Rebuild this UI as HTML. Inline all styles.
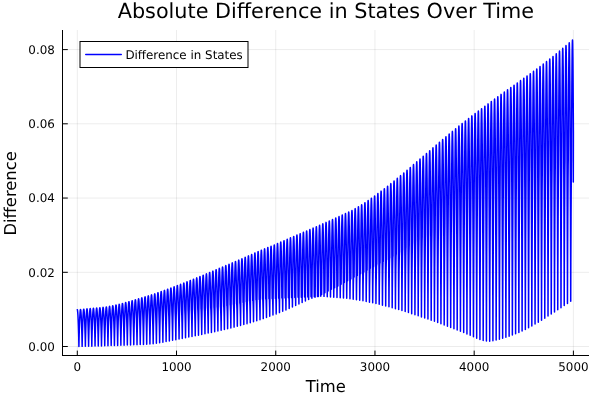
<!DOCTYPE html>
<html><head><meta charset="utf-8"><style>
html,body{margin:0;padding:0;background:#fff;}
svg{display:block;will-change:transform;}
text{font-family:"DejaVu Sans","Liberation Sans",sans-serif;fill:#000;text-rendering:geometricPrecision;}
</style></head><body>
<svg width="600" height="400" viewBox="0 0 600 400">
<rect width="600" height="400" fill="#fff"/>
<g stroke="#000" stroke-opacity="0.1" stroke-width="0.75" fill="none">
<path d="M77.3 30V355M176.52 30V355M275.74 30V355M374.96 30V355M474.18 30V355M573.4 30V355"/>
<path d="M62 346.5H589M62 272.3H589M62 198.05H589M62 123.8H589M62 49.6H589"/>
</g>
<polyline points="77.30,309.72 77.35,309.75 77.40,309.86 77.51,310.32 77.72,312.16 77.94,315.24 78.15,319.64 78.39,325.71 78.62,332.98 78.81,340.71 78.91,346.44 79.04,339.39 79.29,330.22 79.56,322.27 79.83,316.18 80.08,312.29 80.20,310.97 80.32,310.07 80.44,309.55 80.50,309.45 80.56,309.45 80.68,309.75 80.80,310.47 80.98,312.29 81.16,315.01 81.53,323.29 81.92,335.50 82.14,346.37 82.26,339.80 82.48,331.11 82.74,323.34 83.00,317.13 83.23,313.01 83.46,310.37 83.57,309.61 83.69,309.22 83.74,309.16 83.80,309.19 83.91,309.52 84.11,310.93 84.30,313.42 84.49,316.85 84.70,321.66 85.12,334.37 85.28,341.25 85.37,346.29 85.48,339.87 85.70,331.42 85.94,323.72 86.19,317.50 86.42,313.25 86.65,310.43 86.76,309.56 86.87,309.04 86.93,308.91 86.98,308.88 87.04,308.93 87.09,309.06 87.19,309.53 87.29,310.29 87.49,312.66 87.69,316.08 87.91,320.97 88.13,327.00 88.33,333.90 88.51,341.05 88.59,346.21 88.70,339.97 88.92,331.51 89.16,323.84 89.40,317.56 89.63,313.24 89.85,310.35 89.96,309.43 90.07,308.84 90.18,308.60 90.23,308.61 90.29,308.70 90.39,309.10 90.49,309.82 90.70,312.15 90.90,315.60 91.13,320.57 91.35,326.62 91.56,333.59 91.73,340.84 91.82,346.14 91.93,339.84 92.14,331.49 92.38,323.83 92.62,317.52 92.85,313.16 93.06,310.22 93.17,309.24 93.28,308.61 93.39,308.33 93.45,308.32 93.50,308.38 93.60,308.75 93.71,309.44 93.91,311.74 94.12,315.17 94.35,320.24 94.57,326.26 94.78,333.30 94.96,340.63 95.05,346.06 95.15,339.84 95.36,331.42 95.60,323.76 95.84,317.43 96.06,313.05 96.28,310.03 96.39,309.03 96.50,308.38 96.60,308.06 96.66,308.03 96.71,308.08 96.81,308.41 96.92,309.09 97.13,311.38 97.34,314.83 97.57,320.02 97.79,326.03 98.00,333.15 98.18,340.52 98.28,345.99 98.38,339.73 98.59,331.34 98.82,323.61 99.06,317.29 99.28,312.86 99.50,309.83 99.61,308.80 99.72,308.13 99.82,307.79 99.88,307.74 99.93,307.78 100.04,308.11 100.14,308.77 100.36,311.10 100.56,314.62 100.80,319.91 101.02,325.94 101.23,333.01 101.41,340.40 101.50,345.90 101.61,339.60 101.81,331.24 102.05,323.51 102.29,317.10 102.51,312.60 102.72,309.51 102.83,308.47 102.94,307.77 103.04,307.41 103.10,307.36 103.15,307.38 103.26,307.70 103.36,308.35 103.58,310.69 103.79,314.28 104.03,319.73 104.25,325.78 104.46,332.89 104.64,340.35 104.73,345.79 104.84,339.48 105.04,331.03 105.27,323.22 105.51,316.81 105.73,312.29 105.94,309.14 106.05,308.08 106.16,307.36 106.26,306.99 106.32,306.92 106.37,306.94 106.48,307.23 106.58,307.88 106.80,310.26 107.01,313.88 107.26,319.50 107.48,325.50 107.69,332.65 107.87,340.15 107.96,345.69 108.06,339.35 108.26,330.88 108.50,322.95 108.74,316.43 108.95,311.83 109.17,308.65 109.38,306.82 109.49,306.41 109.54,306.34 109.59,306.35 109.70,306.65 109.81,307.30 110.03,309.74 110.24,313.47 110.49,319.26 110.71,325.33 110.92,332.47 111.10,340.05 111.19,345.59 111.29,339.21 111.49,330.60 111.72,322.62 111.96,315.98 112.18,311.30 112.39,308.05 112.60,306.18 112.71,305.76 112.76,305.68 112.81,305.68 112.93,305.98 113.03,306.65 113.26,309.15 113.47,313.00 113.72,318.98 113.94,325.04 114.15,332.26 114.32,339.82 114.42,345.49 114.52,338.95 114.72,330.22 114.95,322.11 115.19,315.44 115.40,310.73 115.62,307.42 115.83,305.51 115.93,305.07 115.99,304.99 116.04,304.99 116.13,305.23 116.23,305.75 116.43,307.69 116.62,310.83 116.82,315.16 117.09,322.32 117.32,329.80 117.53,338.62 117.64,345.39 117.75,338.78 117.95,329.89 118.18,321.66 118.41,314.88 118.63,310.08 118.84,306.71 119.05,304.76 119.16,304.32 119.21,304.23 119.26,304.23 119.36,304.46 119.46,304.99 119.65,306.96 119.85,310.15 120.04,314.54 120.32,322.04 120.55,329.54 120.76,338.50 120.87,345.28 120.97,338.61 121.18,329.55 121.40,321.24 121.64,314.31 121.85,309.41 122.07,305.96 122.28,303.96 122.38,303.51 122.44,303.41 122.49,303.41 122.58,303.64 122.68,304.17 122.87,306.16 123.07,309.40 123.26,313.81 123.55,321.64 123.77,329.17 123.99,338.24 124.10,345.18 124.20,338.44 124.40,329.19 124.63,320.71 124.87,313.65 125.08,308.65 125.29,305.17 125.50,303.12 125.61,302.65 125.66,302.55 125.71,302.54 125.81,302.76 125.91,303.30 126.10,305.31 126.30,308.60 126.49,313.08 126.78,321.28 127.00,328.82 127.22,338.03 127.33,345.06 127.43,338.15 127.63,328.84 127.86,320.17 128.09,312.96 128.31,307.86 128.52,304.30 128.73,302.22 128.83,301.74 128.88,301.63 128.94,301.62 129.03,301.83 129.13,302.36 129.32,304.38 129.51,307.66 129.71,312.26 130.02,321.00 130.23,328.49 130.45,337.84 130.56,344.92 130.66,337.84 130.86,328.36 131.09,319.54 131.32,312.26 131.54,307.05 131.75,303.42 131.96,301.30 132.06,300.80 132.11,300.69 132.16,300.68 132.26,300.89 132.35,301.44 132.55,303.47 132.74,306.81 132.93,311.42 133.25,320.62 133.46,328.12 133.67,337.47 133.79,344.78 133.89,337.55 134.09,327.89 134.32,318.89 134.55,311.48 134.76,306.22 134.97,302.51 135.18,300.34 135.28,299.84 135.34,299.73 135.39,299.71 135.48,299.93 135.58,300.48 135.77,302.54 135.96,305.93 136.16,310.62 136.49,320.31 136.69,327.75 136.90,337.23 137.02,344.65 137.12,337.41 137.32,327.52 137.54,318.42 137.77,310.83 137.99,305.46 138.20,301.66 138.41,299.43 138.51,298.90 138.56,298.79 138.61,298.77 138.71,298.98 138.80,299.53 139.00,301.62 139.19,305.01 139.38,309.77 139.72,320.03 139.92,327.41 140.13,337.03 140.25,344.51 140.35,337.11 140.55,327.05 140.77,317.79 141.00,310.07 141.22,304.60 141.43,300.77 141.63,298.50 141.74,297.96 141.79,297.84 141.84,297.82 141.93,298.03 142.03,298.60 142.22,300.72 142.41,304.17 142.61,309.02 142.95,319.74 143.15,327.04 143.36,336.80 143.47,344.38 143.58,336.80 143.77,326.68 144.00,317.23 144.23,309.36 144.44,303.77 144.65,299.87 144.86,297.55 144.97,297.00 145.02,296.87 145.07,296.85 145.16,297.07 145.26,297.62 145.45,299.77 145.64,303.27 145.83,308.19 146.19,319.45 146.38,326.77 146.59,336.57 146.70,344.24 146.81,336.51 147.00,326.19 147.23,316.57 147.46,308.63 147.67,302.99 147.88,298.94 148.09,296.57 148.19,296.01 148.25,295.88 148.29,295.86 148.39,296.08 148.48,296.64 148.67,298.82 148.87,302.39 149.06,307.33 149.43,319.23 149.62,326.49 149.83,336.43 149.93,344.09 150.04,336.24 150.23,325.73 150.46,315.92 150.69,307.82 150.90,302.02 151.11,297.96 151.32,295.57 151.42,294.99 151.47,294.86 151.52,294.83 151.61,295.04 151.71,295.60 151.90,297.77 152.08,301.32 152.27,306.23 152.85,326.08 153.06,336.05 153.17,343.72 153.27,335.87 153.46,325.15 153.69,315.16 153.92,306.92 154.13,301.09 154.34,296.96 154.55,294.54 154.65,293.96 154.70,293.83 154.75,293.80 154.84,294.01 154.93,294.56 155.12,296.71 155.30,300.23 155.49,305.17 156.09,325.68 156.29,335.55 156.40,343.35 156.50,335.30 156.70,324.41 156.92,314.37 157.15,306.07 157.36,300.13 157.57,295.97 157.77,293.48 157.87,292.88 157.93,292.74 157.98,292.71 158.07,292.91 158.16,293.45 158.34,295.58 158.52,299.07 158.71,303.99 159.33,325.31 159.53,335.18 159.64,342.82 159.74,334.63 159.93,323.69 160.15,313.56 160.38,305.10 160.59,299.11 160.80,294.86 161.00,292.34 161.10,291.72 161.15,291.58 161.20,291.54 161.29,291.74 161.38,292.27 161.56,294.38 161.74,297.85 161.93,302.66 162.57,324.93 162.77,334.51 162.88,342.20 162.98,333.94 163.17,322.82 163.39,312.63 163.62,304.03 163.82,298.01 164.03,293.69 164.23,291.15 164.33,290.54 164.38,290.40 164.43,290.37 164.52,290.56 164.61,291.10 164.79,293.17 164.96,296.56 165.14,301.32 165.44,312.46 165.61,317.18 165.81,324.47 166.01,334.03 166.11,341.59 166.21,333.23 166.40,322.04 166.62,311.68 166.85,303.02 167.05,296.89 167.26,292.55 167.46,289.98 167.56,289.35 167.61,289.20 167.66,289.17 167.75,289.36 167.83,289.89 168.01,291.94 168.18,295.29 168.36,300.02 168.67,312.13 168.85,316.79 169.05,324.10 169.25,333.39 169.35,340.97 169.45,332.50 169.64,321.12 169.86,310.70 170.08,301.99 170.28,295.83 170.49,291.40 170.69,288.79 170.79,288.16 170.84,288.01 170.89,287.97 170.97,288.15 171.06,288.67 171.23,290.69 171.40,294.02 171.57,298.71 171.76,305.14 171.91,311.81 172.09,316.34 172.29,323.75 172.48,332.92 172.59,340.35 172.69,331.75 172.88,320.34 173.09,309.74 173.31,300.98 173.52,294.71 173.72,290.26 173.92,287.60 174.02,286.95 174.07,286.80 174.12,286.76 174.20,286.95 174.29,287.46 174.45,289.47 174.62,292.78 174.79,297.36 174.99,304.23 175.14,311.49 175.32,315.93 175.54,323.44 175.72,332.36 175.83,339.68 175.93,331.01 176.11,319.41 176.33,308.76 176.55,299.86 176.75,293.50 176.95,289.05 177.15,286.38 177.25,285.73 177.30,285.57 177.34,285.53 177.43,285.71 177.51,286.22 177.68,288.20 177.84,291.46 178.01,296.00 178.21,303.30 178.38,311.16 178.56,315.44 178.78,323.04 178.96,331.83 179.06,339.02 179.16,330.24 179.35,318.47 179.56,307.79 179.78,298.84 179.98,292.45 180.18,287.86 180.38,285.18 180.48,284.52 180.53,284.36 180.57,284.32 180.66,284.50 180.74,285.00 180.90,286.96 181.06,290.19 181.23,294.68 181.44,302.45 181.62,310.84 181.80,315.03 182.02,322.74 182.20,331.31 182.30,338.38 182.40,329.49 182.59,317.53 182.80,306.67 183.01,297.69 183.21,291.28 183.41,286.67 183.61,283.94 183.71,283.26 183.76,283.10 183.80,283.06 183.88,283.23 183.96,283.73 184.13,285.67 184.29,288.87 184.45,293.40 184.67,301.57 184.85,310.51 185.04,314.62 185.27,322.45 185.44,330.82 185.54,337.72 185.64,328.68 185.82,316.68 186.03,305.77 186.25,296.63 186.45,290.10 186.64,285.42 186.84,282.64 186.94,281.97 186.99,281.81 187.03,281.76 187.11,281.94 187.19,282.43 187.35,284.35 187.51,287.52 187.67,292.01 187.90,300.67 188.09,310.19 188.17,311.37 188.28,314.20 188.51,322.04 188.68,330.30 188.77,337.06 188.87,327.87 189.06,315.69 189.27,304.60 189.48,295.43 189.68,288.81 189.88,284.11 190.07,281.34 190.17,280.65 190.22,280.49 190.26,280.44 190.34,280.62 190.42,281.11 190.58,283.06 190.73,286.21 190.89,290.67 191.13,299.75 191.32,309.87 191.40,310.97 191.52,313.80 191.75,321.79 191.92,329.87 192.01,336.45 192.11,327.26 192.29,314.86 192.50,303.72 192.71,294.39 192.91,287.73 193.11,282.95 193.30,280.11 193.40,279.41 193.45,279.24 193.49,279.19 193.57,279.37 193.65,279.84 193.80,281.76 193.96,284.93 194.11,289.35 194.36,298.85 194.56,309.54 194.64,310.52 194.76,313.32 195.00,321.41 195.16,329.26 195.25,335.81 195.35,326.42 195.53,314.00 195.73,302.67 195.95,293.18 196.14,286.43 196.34,281.64 196.53,278.76 196.63,278.06 196.67,277.89 196.72,277.85 196.80,278.02 196.88,278.51 197.03,280.42 197.18,283.57 197.34,287.96 197.59,297.89 197.80,309.22 197.88,310.17 198.00,312.97 198.24,321.15 198.40,328.81 198.48,335.15 198.58,325.76 198.76,313.13 198.97,301.62 199.18,292.10 199.38,285.23 199.57,280.36 199.76,277.47 199.86,276.75 199.90,276.58 199.95,276.53 200.03,276.71 200.10,277.18 200.25,279.06 200.41,282.17 200.56,286.57 200.82,297.04 201.03,308.90 201.04,308.84 201.06,308.99 201.11,309.75 201.24,312.45 201.48,320.69 201.64,328.25 201.72,334.47 201.82,324.95 202.00,312.12 202.20,300.57 202.41,290.89 202.61,284.01 202.80,279.06 202.99,276.14 203.09,275.42 203.13,275.25 203.18,275.20 203.26,275.36 203.33,275.83 203.48,277.72 203.63,280.86 203.78,285.24 204.05,296.07 204.27,308.57 204.28,308.49 204.30,308.60 204.35,309.33 204.48,312.01 204.72,320.28 204.88,327.61 204.96,333.77 205.05,324.04 205.23,311.20 205.44,299.47 205.65,289.77 205.84,282.77 206.03,277.80 206.22,274.82 206.32,274.09 206.36,273.91 206.41,273.85 206.49,274.02 206.56,274.49 206.71,276.37 206.86,279.48 207.01,283.82 207.28,295.09 207.51,308.25 207.51,308.15 207.53,308.24 207.59,308.91 207.72,311.56 207.97,319.93 208.11,327.06 208.19,333.08 208.29,323.21 208.47,310.18 208.67,298.41 208.88,288.54 209.07,281.44 209.27,276.41 209.45,273.43 209.55,272.69 209.60,272.51 209.64,272.46 209.71,272.62 209.79,273.10 209.94,274.97 210.08,278.06 210.23,282.43 210.51,294.19 210.74,307.93 210.76,307.83 210.80,308.19 210.91,310.01 211.13,316.26 211.32,324.74 211.43,332.39 211.53,322.33 211.71,309.12 211.91,297.20 212.12,287.32 212.31,280.21 212.50,275.11 212.69,272.08 212.78,271.34 212.83,271.16 212.87,271.11 212.94,271.27 213.02,271.73 213.16,273.59 213.31,276.70 213.46,281.03 213.74,293.15 213.98,307.60 214.00,307.45 214.04,307.77 214.14,309.50 214.36,315.60 214.56,324.00 214.67,331.65 214.76,321.69 214.94,308.23 215.14,296.09 215.35,286.05 215.54,278.91 215.73,273.78 215.92,270.69 216.01,269.92 216.06,269.73 216.10,269.68 216.17,269.84 216.25,270.30 216.39,272.15 216.53,275.22 216.68,279.51 216.98,292.23 217.21,307.28 217.24,307.09 217.28,307.34 217.38,308.94 217.60,314.88 217.79,323.16 217.90,330.92 218.00,320.79 218.18,307.15 218.38,295.00 218.59,284.81 218.77,277.58 218.96,272.39 219.15,269.31 219.24,268.54 219.29,268.35 219.33,268.30 219.40,268.46 219.48,268.92 219.62,270.80 219.76,273.85 219.90,278.17 220.20,291.18 220.45,306.91 220.47,306.68 220.51,306.89 220.61,308.37 220.83,314.14 221.03,322.46 221.14,330.21 221.24,319.94 221.42,306.29 221.61,293.96 221.82,283.75 222.01,276.40 222.19,271.12 222.38,267.99 222.47,267.20 222.52,267.02 222.57,266.96 222.64,267.12 222.71,267.58 222.85,269.43 222.99,272.50 223.13,276.78 223.43,290.17 223.68,306.29 223.70,306.02 223.74,306.17 223.84,307.53 224.06,313.22 224.27,321.56 224.38,329.47 224.47,319.06 224.65,305.23 224.85,292.88 225.05,282.52 225.24,275.08 225.43,269.80 225.61,266.63 225.70,265.85 225.75,265.65 225.80,265.59 225.87,265.75 225.93,266.21 226.07,268.03 226.21,271.05 226.35,275.27 226.66,288.99 226.91,305.67 226.93,305.36 226.97,305.46 227.08,306.76 227.30,312.31 227.50,320.69 227.61,328.67 227.71,318.22 227.89,304.20 228.09,291.69 228.29,281.33 228.47,273.79 228.66,268.45 228.84,265.29 228.94,264.50 228.98,264.30 229.03,264.24 229.10,264.40 229.16,264.85 229.30,266.68 229.44,269.67 229.58,273.91 229.89,287.91 230.14,305.05 230.17,304.69 230.18,304.67 230.21,304.74 230.31,305.95 230.53,311.42 230.74,319.71 230.85,327.91 230.95,317.20 231.13,303.20 231.32,290.68 231.52,280.16 231.71,272.60 231.89,267.17 232.08,263.95 232.17,263.15 232.22,262.94 232.26,262.88 232.33,263.04 232.39,263.48 232.53,265.27 232.67,268.27 232.80,272.45 233.12,286.82 233.38,304.43 233.40,304.04 233.41,303.98 233.44,304.02 233.54,305.09 233.77,310.44 233.97,318.87 234.09,327.12 234.19,316.31 234.36,302.13 234.56,289.44 234.76,278.81 234.94,271.18 235.13,265.79 235.31,262.54 235.40,261.74 235.45,261.55 235.49,261.50 235.56,261.65 235.63,262.11 235.76,263.89 235.89,266.86 236.03,270.99 236.35,285.61 236.61,303.80 236.63,303.36 236.65,303.29 236.67,303.31 236.77,304.29 237.00,309.49 237.21,317.94 237.33,326.28 237.42,315.47 237.60,301.08 237.79,288.23 237.99,277.59 238.18,269.96 238.36,264.47 238.54,261.17 238.64,260.36 238.68,260.16 238.72,260.10 238.79,260.26 238.86,260.69 238.99,262.49 239.12,265.41 239.26,269.57 239.58,284.61 239.84,303.18 239.86,302.69 239.90,302.57 240.01,303.43 240.12,305.42 240.23,308.48 240.45,316.90 240.57,325.38 240.66,314.45 240.84,300.08 241.03,287.21 241.23,276.41 241.41,268.66 241.59,263.11 241.78,259.81 241.87,258.98 241.91,258.78 241.96,258.72 242.02,258.87 242.09,259.30 242.22,261.05 242.35,263.98 242.48,268.07 242.81,283.34 243.07,302.56 243.09,302.02 243.13,301.85 243.18,302.04 243.24,302.57 243.35,304.51 243.47,307.50 243.69,315.93 243.81,324.52 243.90,313.38 244.08,298.86 244.27,285.86 244.46,275.08 244.65,267.26 244.83,261.72 245.01,258.40 245.10,257.58 245.14,257.38 245.19,257.31 245.25,257.46 245.32,257.90 245.45,259.64 245.58,262.52 245.71,266.63 245.87,273.51 246.04,282.32 246.31,301.94 246.33,301.36 246.37,301.12 246.42,301.24 246.47,301.74 246.59,303.59 246.70,306.49 246.92,314.79 247.05,323.63 247.14,312.54 247.31,297.81 247.50,284.79 247.70,273.86 247.88,266.03 248.06,260.39 248.24,257.00 248.33,256.17 248.38,255.96 248.42,255.90 248.49,256.05 248.55,256.47 248.68,258.21 248.80,261.05 248.93,265.09 249.10,272.12 249.27,281.01 249.54,301.31 249.56,300.70 249.60,300.38 249.63,300.37 249.65,300.45 249.71,300.90 249.82,302.65 249.94,305.54 250.16,313.88 250.29,322.71 250.38,311.46 250.55,296.76 250.74,283.58 250.93,272.65 251.11,264.72 251.30,259.01 251.47,255.62 251.56,254.77 251.61,254.56 251.65,254.49 251.72,254.64 251.78,255.06 251.91,256.77 252.03,259.63 252.16,263.61 252.33,270.80 252.50,279.95 252.77,300.69 252.83,299.65 252.86,299.60 252.88,299.65 252.94,300.02 253.06,301.70 253.18,304.50 253.40,312.81 253.52,321.78 253.62,310.37 253.79,295.49 253.98,282.17 254.17,271.13 254.35,263.13 254.53,257.47 254.71,254.08 254.80,253.24 254.85,253.04 254.89,252.98 254.95,253.13 255.01,253.56 255.14,255.25 255.26,258.06 255.39,262.07 255.56,269.31 255.73,278.69 256.01,300.07 256.07,298.90 256.09,298.82 256.12,298.84 256.17,299.15 256.29,300.70 256.41,303.39 256.63,311.64 256.76,320.77 256.97,298.91 257.29,276.20 257.60,261.24 257.76,256.33 257.91,253.17 257.99,252.16 258.07,251.64 258.11,251.56 258.15,251.59 258.23,252.00 258.39,254.27 258.55,258.44 258.74,265.73 258.93,275.65 259.11,288.24 259.24,299.45 259.30,298.15 259.35,298.01 259.41,298.25 259.53,299.68 259.65,302.32 259.87,310.54 260.01,319.72 260.27,293.27 260.45,279.80 260.64,268.63 260.82,260.54 261.00,254.81 261.18,251.34 261.26,250.47 261.31,250.25 261.35,250.19 261.41,250.32 261.47,250.72 261.59,252.36 261.71,255.10 261.84,258.94 262.01,266.57 262.19,276.43 262.48,299.16 262.54,297.73 262.59,297.50 262.64,297.64 262.76,298.91 262.88,301.39 263.11,309.45 263.25,318.62 263.47,294.70 263.81,271.01 263.98,262.66 264.14,256.33 264.30,251.91 264.46,249.43 264.53,248.95 264.57,248.87 264.60,248.87 264.67,249.15 264.74,249.83 264.89,252.30 265.03,256.29 265.22,263.94 265.40,274.29 265.59,287.40 265.71,298.98 265.77,297.40 265.83,297.06 265.85,297.04 265.88,297.11 266.00,298.21 266.12,300.53 266.35,308.32 266.49,317.47 266.60,304.20 266.79,287.31 267.00,273.02 267.21,261.80 267.40,254.16 267.59,249.43 267.69,248.13 267.79,247.54 267.81,247.51 267.84,247.52 267.89,247.68 267.98,248.54 268.11,250.75 268.24,254.27 268.50,265.12 268.76,281.71 268.95,298.80 269.01,297.07 269.06,296.62 269.09,296.54 269.12,296.55 269.18,296.84 269.24,297.45 269.36,299.59 269.59,307.15 269.73,316.29 269.99,289.53 270.36,264.90 270.53,256.80 270.70,250.96 270.88,247.43 270.96,246.54 271.05,246.24 271.12,246.43 271.20,247.05 271.35,249.59 271.49,253.85 271.64,259.82 271.95,277.83 272.19,298.62 272.25,296.71 272.30,296.18 272.36,296.00 272.42,296.19 272.48,296.70 272.60,298.69 272.72,301.89 272.83,306.09 272.97,315.11 273.23,288.35 273.59,263.66 273.77,255.48 273.94,249.61 274.11,246.10 274.20,245.20 274.28,244.90 274.36,245.10 274.43,245.73 274.58,248.31 274.73,252.64 274.88,258.81 275.19,277.32 275.43,298.44 275.49,296.38 275.54,295.74 275.59,295.45 275.62,295.44 275.65,295.52 275.71,295.92 275.84,297.72 275.96,300.80 276.07,304.86 276.21,313.88 276.47,287.13 276.83,262.35 277.00,254.09 277.17,248.24 277.35,244.68 277.43,243.79 277.51,243.47 277.55,243.51 277.59,243.66 277.66,244.29 277.81,246.95 277.97,251.43 278.12,257.73 278.43,276.59 278.67,298.25 278.73,296.01 278.83,294.88 278.86,294.82 278.89,294.85 278.95,295.16 279.08,296.77 279.20,299.61 279.31,303.58 279.46,312.62 279.71,285.73 280.07,260.92 280.24,252.73 280.41,246.84 280.58,243.31 280.66,242.41 280.75,242.08 280.79,242.12 280.82,242.28 280.90,242.95 281.05,245.67 281.20,250.24 281.35,256.66 281.67,276.03 281.90,298.07 281.96,295.69 282.07,294.31 282.13,294.17 282.19,294.36 282.32,295.79 282.44,298.53 282.55,302.39 282.70,311.31 282.95,284.28 283.31,259.48 283.48,251.23 283.65,245.39 283.82,241.85 283.90,240.95 283.98,240.64 284.02,240.68 284.06,240.83 284.14,241.51 284.29,244.28 284.44,248.92 284.59,255.56 284.91,275.29 285.14,297.89 285.20,295.30 285.31,293.71 285.37,293.45 285.40,293.45 285.43,293.53 285.56,294.75 285.68,297.29 285.80,301.05 285.94,309.91 286.19,282.89 286.55,258.06 286.72,249.87 286.89,243.97 287.05,240.45 287.14,239.53 287.22,239.22 287.26,239.26 287.29,239.42 287.37,240.11 287.52,242.98 287.68,247.82 287.83,254.48 288.15,274.75 288.38,297.76 288.44,295.03 288.55,293.16 288.61,292.77 288.64,292.71 288.67,292.74 288.73,293.05 288.80,293.73 288.92,296.07 289.04,299.66 289.14,304.30 289.19,308.52 289.44,281.45 289.79,256.62 289.96,248.38 290.12,242.54 290.29,239.00 290.37,238.12 290.45,237.80 290.49,237.84 290.53,238.00 290.60,238.70 290.76,241.60 290.91,246.50 291.07,253.38 291.39,274.18 291.62,297.62 291.68,294.69 291.79,292.58 291.85,292.06 291.91,291.91 291.97,292.11 292.04,292.68 292.16,294.86 292.28,298.27 292.38,302.76 292.43,307.06 292.68,280.06 293.03,255.22 293.19,247.04 293.36,241.16 293.52,237.64 293.61,236.74 293.69,236.41 293.73,236.46 293.76,236.63 293.84,237.36 294.00,240.33 294.15,245.32 294.30,252.33 294.62,273.47 294.86,297.48 294.92,294.33 295.03,291.97 295.09,291.33 295.15,291.06 295.18,291.06 295.21,291.15 295.28,291.61 295.40,293.60 295.52,296.93 295.62,301.31 295.68,305.56 295.92,278.44 296.27,253.82 296.43,245.59 296.60,239.77 296.76,236.23 296.84,235.34 296.92,235.02 296.96,235.07 297.00,235.24 297.08,235.97 297.23,238.98 297.38,244.04 297.54,251.26 297.86,272.95 298.10,297.34 298.16,294.05 298.27,291.36 298.33,290.60 298.39,290.21 298.42,290.14 298.45,290.18 298.52,290.52 298.65,292.34 298.77,295.50 298.87,299.85 298.92,304.06 299.16,277.06 299.51,252.45 299.67,244.28 299.83,238.41 300.00,234.86 300.08,233.97 300.16,233.66 300.20,233.72 300.24,233.90 300.31,234.65 300.47,237.79 300.62,242.97 300.78,250.34 301.10,272.42 301.34,297.21 301.40,293.70 301.50,290.81 301.63,289.36 301.69,289.21 301.76,289.44 301.89,291.03 302.01,294.06 302.11,298.25 302.16,302.56 302.41,275.70 302.75,251.09 302.91,242.87 303.07,237.05 303.23,233.52 303.31,232.61 303.39,232.29 303.43,232.35 303.47,232.52 303.55,233.28 303.70,236.45 303.86,241.79 304.02,249.27 304.34,271.90 304.58,297.07 304.63,293.44 304.74,290.20 304.87,288.50 304.93,288.22 304.96,288.23 305.00,288.34 305.13,289.74 305.25,292.59 305.35,296.75 305.41,301.03 305.65,274.11 305.99,249.58 306.15,241.46 306.31,235.70 306.47,232.14 306.55,231.25 306.63,230.92 306.67,230.97 306.71,231.15 306.78,231.94 306.94,235.17 307.10,240.58 307.25,248.18 307.58,271.11 307.82,296.93 307.87,293.11 307.98,289.62 308.11,287.67 308.17,287.28 308.20,287.23 308.24,287.29 308.31,287.71 308.37,288.51 308.49,291.21 308.60,295.34 308.65,299.56 308.89,272.74 309.23,248.23 309.39,240.06 309.55,234.28 309.71,230.77 309.79,229.87 309.87,229.55 309.91,229.60 309.94,229.79 310.02,230.60 310.18,233.88 310.33,239.38 310.49,247.22 310.82,270.57 311.05,296.79 311.11,292.78 311.22,289.06 311.35,286.88 311.41,286.38 311.44,286.28 311.48,286.28 311.54,286.59 311.61,287.30 311.73,289.89 311.84,293.91 311.90,298.17 312.14,271.11 312.47,246.69 312.63,238.60 312.79,232.79 312.95,229.29 313.03,228.40 313.10,228.10 313.14,228.16 313.18,228.35 313.26,229.19 313.42,232.53 313.57,238.12 313.73,246.09 314.06,269.97 314.29,296.66 314.35,292.52 314.46,288.62 314.59,286.28 314.65,285.70 314.72,285.52 314.78,285.77 314.85,286.41 314.97,288.90 315.08,292.84 315.14,297.13 315.38,269.93 315.71,245.44 315.87,237.28 316.02,231.49 316.18,227.92 316.26,227.02 316.34,226.71 316.38,226.76 316.41,226.95 316.49,227.78 316.65,231.20 316.81,236.87 316.97,244.94 317.30,269.36 317.53,296.51 317.59,292.29 317.70,288.27 317.83,285.83 317.89,285.22 317.95,285.02 318.02,285.22 318.08,285.83 318.21,288.27 318.31,292.19 318.37,296.53 318.61,269.10 318.94,244.17 319.10,235.92 319.26,230.09 319.42,226.50 319.50,225.59 319.57,225.28 319.61,225.34 319.65,225.53 319.73,226.38 319.89,229.86 320.05,235.72 320.21,243.93 320.54,268.73 320.77,296.28 320.83,291.77 320.94,287.61 321.06,284.88 321.13,284.10 321.20,283.76 321.23,283.75 321.27,283.84 321.33,284.34 321.45,286.55 321.56,290.35 321.62,294.57 321.86,267.31 322.19,242.63 322.34,234.46 322.50,228.60 322.65,225.04 322.73,224.13 322.81,223.82 322.85,223.89 322.89,224.10 322.97,224.98 323.13,228.56 323.29,234.54 323.45,242.91 323.78,268.35 324.02,296.37 324.07,291.70 324.18,287.22 324.30,284.17 324.37,283.23 324.44,282.73 324.47,282.64 324.51,282.66 324.57,283.01 324.70,284.99 324.81,288.65 324.87,292.84 325.11,265.42 325.43,240.92 325.59,232.78 325.74,227.04 325.90,223.53 325.97,222.67 326.05,222.38 326.13,222.69 326.21,223.61 326.37,227.28 326.53,233.38 326.69,242.05 327.02,267.96 327.26,296.73 327.32,291.80 327.42,287.00 327.55,283.63 327.68,281.86 327.75,281.64 327.82,281.86 327.94,283.60 328.05,287.07 328.11,291.09 328.35,263.79 328.67,239.39 328.83,231.35 328.98,225.59 329.13,222.12 329.21,221.26 329.29,220.97 329.37,221.29 329.45,222.22 329.61,226.02 329.77,232.35 329.93,241.20 330.27,267.81 330.50,297.03 330.56,291.94 330.67,286.80 330.79,283.08 330.92,280.97 330.99,280.58 331.03,280.55 331.06,280.64 331.12,281.14 331.19,282.08 331.30,285.36 331.36,289.34 331.59,262.16 331.91,237.85 332.07,229.79 332.22,224.12 332.37,220.65 332.45,219.79 332.52,219.52 332.60,219.84 332.69,220.82 332.85,224.69 333.01,231.13 333.17,240.11 333.51,267.34 333.75,297.31 333.80,291.95 333.91,286.51 334.04,282.50 334.17,280.09 334.24,279.56 334.27,279.47 334.30,279.49 334.37,279.87 334.43,280.69 334.54,283.74 334.61,287.66 334.84,260.74 335.15,236.41 335.31,228.39 335.46,222.64 335.61,219.16 335.69,218.28 335.76,217.99 335.84,218.30 335.92,219.27 336.08,223.25 336.25,229.77 336.41,239.02 336.75,266.90 336.99,297.60 337.05,292.15 337.15,286.37 337.28,281.94 337.41,279.24 337.48,278.57 337.55,278.36 337.61,278.61 337.67,279.31 337.79,282.14 337.85,285.99 338.08,258.90 338.40,234.90 338.55,226.87 338.70,221.20 338.85,217.73 338.92,216.87 339.00,216.58 339.04,216.66 339.08,216.90 339.16,217.91 339.32,221.96 339.49,228.71 339.65,238.14 339.99,266.72 340.23,297.86 340.29,292.11 340.40,286.05 340.52,281.39 340.66,278.35 340.72,277.53 340.79,277.16 340.82,277.16 340.86,277.28 340.92,277.85 341.03,280.46 341.10,284.24 341.33,257.22 341.64,233.16 341.79,225.24 341.94,219.58 342.09,216.17 342.16,215.32 342.24,215.04 342.32,215.39 342.40,216.43 342.56,220.57 342.73,227.44 342.89,237.19 343.24,266.28 343.48,298.10 343.53,292.21 343.64,285.80 343.76,280.81 343.90,277.44 343.97,276.43 344.03,275.93 344.07,275.86 344.10,275.91 344.16,276.37 344.28,278.82 344.34,282.47 344.57,255.55 344.88,231.75 345.03,223.79 345.18,218.09 345.33,214.67 345.40,213.83 345.47,213.56 345.51,213.64 345.56,213.90 345.64,214.95 345.80,219.20 345.97,226.17 346.13,236.05 346.48,265.76 346.72,298.36 346.78,292.38 346.88,285.62 347.01,280.19 347.14,276.50 347.28,274.70 347.31,274.56 347.34,274.54 347.41,274.88 347.52,277.09 347.59,280.67 347.82,253.88 348.12,230.16 348.27,222.17 348.42,216.55 348.56,213.17 348.64,212.30 348.71,212.03 348.75,212.10 348.79,212.37 348.88,213.46 349.04,217.80 349.21,225.01 349.38,235.08 349.72,265.58 349.97,298.72 350.02,292.50 350.13,285.42 350.25,279.66 350.39,275.66 350.52,273.54 350.59,273.23 350.62,273.26 350.65,273.42 350.77,275.45 350.84,278.87 351.06,251.92 351.37,228.36 351.51,220.49 351.66,214.87 351.81,211.50 351.88,210.68 351.95,210.41 352.03,210.77 352.12,211.89 352.28,216.29 352.45,223.61 352.62,233.98 352.97,265.18 353.21,299.17 353.27,292.66 353.37,285.42 353.50,279.29 353.63,274.94 353.77,272.49 353.83,272.04 353.86,271.99 353.90,272.08 353.96,272.67 354.02,273.84 354.08,277.13 354.31,250.34 354.61,226.58 354.75,218.78 354.90,213.10 355.04,209.76 355.11,208.92 355.19,208.64 355.23,208.73 355.27,209.00 355.35,210.13 355.52,214.67 355.69,222.24 355.86,232.82 356.21,264.83 356.46,299.65 356.62,285.44 356.74,279.06 356.87,274.32 357.01,271.54 357.07,270.90 357.11,270.77 357.14,270.78 357.20,271.22 357.26,272.24 357.33,275.41 357.55,248.44 357.85,224.76 357.99,216.92 358.14,211.31 358.28,207.93 358.35,207.08 358.43,206.80 358.47,206.90 358.51,207.20 358.60,208.37 358.76,213.03 358.93,220.76 359.10,231.71 359.46,264.60 359.70,300.21 359.86,285.47 359.99,278.75 360.12,273.75 360.25,270.62 360.32,269.83 360.38,269.54 360.44,269.82 360.50,270.68 360.57,273.70 360.79,246.66 361.09,222.94 361.23,215.01 361.38,209.33 361.52,205.92 361.59,205.07 361.66,204.79 361.71,204.88 361.75,205.17 361.83,206.34 362.00,211.12 362.17,219.11 362.35,230.27 362.71,264.29 362.95,300.85 363.11,285.77 363.23,278.75 363.36,273.32 363.49,269.79 363.56,268.82 363.62,268.35 363.66,268.33 363.69,268.45 363.74,269.16 363.81,271.99 364.03,244.77 364.33,220.83 364.48,212.85 364.62,207.23 364.76,203.80 364.83,202.95 364.90,202.68 364.95,202.78 364.99,203.08 365.07,204.32 365.25,209.23 365.42,217.39 365.59,228.94 365.95,263.94 366.20,301.50 366.35,285.92 366.60,272.80 366.74,268.94 366.87,267.11 366.90,266.99 366.93,267.03 366.98,267.58 367.05,270.21 367.28,242.59 367.57,218.69 367.72,210.64 367.86,204.99 368.00,201.59 368.07,200.74 368.14,200.47 368.18,200.57 368.23,200.88 368.31,202.14 368.49,207.24 368.66,215.73 368.83,227.57 369.20,263.58 369.45,302.13 369.60,286.21 369.85,272.24 369.98,268.00 370.11,265.82 370.17,265.58 370.23,265.99 370.30,268.39 370.57,236.06 370.74,221.78 370.91,210.90 371.15,201.38 371.26,199.02 371.32,198.42 371.38,198.23 371.42,198.33 371.47,198.66 371.55,199.96 371.73,205.15 371.90,213.78 372.08,226.01 372.44,262.93 372.70,302.84 372.85,286.45 373.09,271.79 373.23,267.15 373.35,264.63 373.41,264.21 373.44,264.23 373.47,264.42 373.54,266.63 373.81,234.50 373.97,220.36 374.14,209.32 374.26,203.40 374.38,199.26 374.50,196.77 374.56,196.14 374.62,195.93 374.66,196.05 374.71,196.37 374.79,197.68 374.97,203.05 375.15,212.00 375.32,224.69 375.51,242.04 375.69,262.75 375.95,303.59 376.09,286.77 376.34,271.51 376.47,266.41 376.59,263.49 376.66,262.87 376.68,262.81 376.71,262.91 376.78,264.89 377.04,232.87 377.21,218.67 377.37,207.67 377.49,201.42 377.62,197.04 377.74,194.41 377.80,193.74 377.86,193.53 377.90,193.65 377.95,193.98 378.03,195.37 378.21,200.89 378.39,210.04 378.57,222.99 378.76,240.92 378.94,262.33 379.11,286.29 379.20,304.36 379.34,287.13 379.58,271.16 379.71,265.71 379.84,262.36 379.90,261.54 379.92,261.40 379.95,261.41 380.00,261.97 380.02,263.14 380.28,231.51 380.60,206.03 380.73,199.43 380.85,194.81 380.97,192.04 381.04,191.35 381.10,191.12 381.14,191.23 381.19,191.58 381.27,193.00 381.45,198.71 381.63,208.20 381.81,221.64 382.00,239.97 382.19,261.84 382.35,286.27 382.45,305.16 382.59,287.50 382.82,270.80 382.95,264.93 383.08,261.24 383.14,260.22 383.19,259.92 383.24,260.34 383.26,261.40 383.51,229.85 383.83,204.41 383.96,197.45 384.08,192.58 384.21,189.66 384.28,188.92 384.34,188.69 384.38,188.82 384.43,189.19 384.52,190.66 384.70,196.51 384.88,206.35 385.06,220.09 385.25,239.05 385.44,261.70 385.60,286.66 385.70,305.99 385.83,288.17 386.07,270.65 386.19,264.39 386.32,260.23 386.38,258.97 386.43,258.45 386.48,258.69 386.50,259.67 386.75,228.22 387.06,202.62 387.19,195.45 387.32,190.30 387.45,187.21 387.51,186.44 387.58,186.18 387.62,186.30 387.67,186.68 387.76,188.16 387.94,194.20 388.12,204.24 388.30,218.23 388.50,237.81 388.68,261.22 388.85,287.09 388.95,306.86 389.08,288.66 389.31,270.40 389.44,263.68 389.56,259.17 389.67,257.01 389.70,256.94 389.72,257.10 389.74,257.95 389.99,226.78 390.29,201.10 390.42,193.37 390.55,187.95 390.69,184.69 390.75,183.86 390.82,183.60 390.86,183.72 390.91,184.10 391.00,185.66 391.18,191.83 391.36,202.24 391.55,216.77 391.74,236.80 391.93,260.70 392.10,287.48 392.19,307.75 392.33,289.21 392.55,270.34 392.80,258.19 392.92,255.52 392.94,255.35 392.96,255.40 392.99,256.17 393.22,225.09 393.52,199.41 393.65,191.27 393.79,185.55 393.92,182.11 393.99,181.25 394.06,180.96 394.10,181.09 394.15,181.47 394.24,183.05 394.42,189.43 394.60,200.05 394.79,215.05 394.99,235.74 395.18,260.46 395.35,287.80 395.44,308.65 395.57,289.77 395.80,270.10 396.04,257.11 396.15,254.03 396.20,253.72 396.23,254.37 396.46,223.63 396.75,197.73 396.89,189.16 397.02,183.14 397.16,179.52 397.23,178.60 397.30,178.30 397.34,178.43 397.39,178.84 397.48,180.47 397.66,186.98 397.85,197.95 398.04,213.28 398.23,234.40 398.43,259.95 398.60,288.30 398.69,309.58 398.82,290.25 399.04,269.74 399.29,255.71 399.40,252.18 399.44,251.69 399.47,252.22 399.69,221.93 399.98,196.09 400.12,187.07 400.26,180.73 400.40,176.91 400.47,175.95 400.54,175.62 400.58,175.74 400.63,176.16 400.72,177.81 400.91,184.52 401.09,195.70 401.28,211.54 401.48,233.36 401.67,259.43 401.85,288.76 401.94,310.58 402.03,294.89 402.20,276.82 402.48,256.58 402.62,250.84 402.68,249.62 402.69,249.55 402.70,249.60 402.71,249.97 402.93,220.00 403.21,194.30 403.35,184.86 403.49,178.22 403.64,174.24 403.71,173.23 403.78,172.91 403.82,173.05 403.87,173.48 403.96,175.24 404.15,182.17 404.34,193.82 404.53,210.05 404.73,232.34 404.92,259.29 405.10,289.22 405.19,311.58 405.28,295.37 405.45,276.03 405.73,255.24 405.87,248.94 405.93,247.53 405.95,247.41 405.96,247.73 406.17,218.37 406.44,192.74 406.59,182.80 406.73,175.80 406.87,171.59 406.95,170.53 407.02,170.17 407.06,170.30 407.11,170.74 407.20,172.50 407.39,179.63 407.58,191.48 407.77,208.23 407.97,231.26 408.17,259.15 408.35,289.76 408.44,312.62 408.54,295.46 408.71,275.16 408.98,253.73 409.11,247.10 409.17,245.44 409.19,245.22 409.20,245.48 409.41,216.42 409.67,190.98 409.82,180.59 409.97,173.28 410.11,168.89 410.19,167.78 410.26,167.44 410.31,167.59 410.35,168.06 410.45,169.90 410.64,177.22 410.82,189.34 411.02,206.41 411.22,230.18 411.42,258.60 411.60,290.24 411.69,313.70 411.79,295.65 411.96,274.31 412.23,252.38 412.36,245.28 412.41,243.36 412.43,243.04 412.45,243.23 412.65,214.75 412.90,189.42 413.05,178.49 413.20,170.79 413.35,166.15 413.42,164.99 413.50,164.60 413.55,164.75 413.59,165.21 413.69,167.06 413.88,174.59 414.07,187.11 414.26,204.53 414.47,228.73 414.67,258.03 414.85,290.21 414.94,314.78 415.04,295.78 415.22,273.39 415.48,250.84 415.60,243.35 415.66,241.27 415.68,240.86 415.69,240.99 415.89,212.86 416.13,187.76 416.29,176.34 416.44,168.29 416.59,163.45 416.67,162.23 416.74,161.84 416.79,162.00 416.84,162.51 416.93,164.43 417.12,172.17 417.31,184.97 417.51,203.01 417.72,228.07 417.92,258.01 418.10,290.87 418.19,315.85 418.29,296.11 418.47,272.31 418.73,249.22 418.85,241.49 418.93,238.74 419.12,211.18 419.36,186.27 419.52,174.28 419.67,165.83 419.83,160.74 419.90,159.46 419.98,159.03 420.03,159.18 420.07,159.66 420.17,161.63 420.36,169.57 420.56,182.79 420.75,201.16 420.96,226.65 421.16,257.48 421.34,291.40 421.44,316.94 421.54,296.20 421.72,271.60 421.97,248.07 422.09,239.75 422.18,236.62 422.36,209.31 422.59,184.66 422.75,172.15 422.91,163.33 423.07,158.02 423.15,156.67 423.22,156.24 423.27,156.40 423.32,156.89 423.41,158.89 423.61,166.96 423.80,180.37 424.00,199.28 424.21,225.53 424.41,257.35 424.59,291.93 424.69,318.01 424.79,296.64 424.98,270.83 425.22,246.75 425.34,238.05 425.42,234.57 425.60,207.78 425.83,183.11 425.99,170.02 426.15,160.80 426.31,155.26 426.38,153.87 426.42,153.53 426.46,153.42 426.51,153.59 426.56,154.13 426.66,156.21 426.85,164.49 427.05,178.38 427.24,197.69 427.45,224.43 427.66,256.80 427.84,292.51 427.94,319.10 428.04,296.60 428.23,269.66 428.46,245.35 428.58,236.30 428.66,232.51 428.84,206.25 429.06,181.86 429.22,168.16 429.38,158.36 429.55,152.57 429.63,151.11 429.67,150.76 429.71,150.65 429.75,150.83 429.80,151.37 429.90,153.49 430.10,162.03 430.29,176.18 430.49,196.09 430.70,223.69 430.91,256.68 431.09,293.06 431.19,320.17 431.29,297.00 431.48,268.80 431.71,244.01 431.91,230.46 432.08,204.43 432.29,180.37 432.45,166.06 432.62,155.96 432.78,149.87 432.86,148.34 432.95,147.82 432.99,147.98 433.04,148.51 433.14,150.69 433.34,159.35 433.54,173.91 433.73,194.18 433.95,222.24 434.16,256.21 434.34,293.17 434.44,321.30 434.54,297.37 434.73,267.88 434.96,242.61 435.15,228.41 435.31,202.96 435.52,178.97 435.69,164.07 435.86,153.54 436.02,147.17 436.11,145.55 436.19,145.03 436.24,145.19 436.28,145.73 436.38,147.95 436.58,156.73 436.78,171.49 436.98,192.31 437.20,221.15 437.41,256.09 437.59,293.68 437.69,322.45 437.79,297.43 437.99,267.02 438.20,241.29 438.39,226.35 438.55,201.25 438.76,177.37 438.93,161.89 439.10,150.96 439.26,144.39 439.35,142.76 439.43,142.23 439.48,142.40 439.53,142.95 439.63,145.19 439.82,154.23 440.03,169.47 440.23,190.70 440.44,220.46 440.66,256.10 440.84,295.00 440.94,323.65 441.04,298.32 441.24,266.41 441.45,239.90 441.63,224.30 441.79,199.86 441.98,176.37 442.16,160.20 442.33,148.76 442.50,141.85 442.59,140.09 442.63,139.66 442.67,139.52 442.72,139.70 442.77,140.28 442.87,142.59 443.07,151.83 443.27,167.36 443.47,188.93 443.69,219.09 443.90,255.64 444.09,295.04 444.19,324.88 444.29,298.39 444.49,265.17 444.70,238.59 444.88,222.24 445.03,198.27 445.22,174.98 445.40,158.20 445.57,146.35 445.74,139.20 445.83,137.42 445.87,136.97 445.92,136.83 445.97,137.04 446.02,137.63 446.11,140.00 446.31,149.40 446.51,165.16 446.72,187.36 446.94,218.43 447.15,255.65 447.34,295.75 447.44,326.17 447.54,298.94 447.74,264.62 447.95,237.27 448.12,220.19 448.45,173.88 448.63,156.39 448.81,144.02 448.98,136.57 449.07,134.68 449.12,134.23 449.16,134.09 449.21,134.29 449.26,134.89 449.36,137.29 449.56,146.95 449.76,163.21 449.96,185.82 450.19,217.78 450.40,255.63 450.59,296.98 450.69,327.48 450.79,299.10 450.99,263.32 451.19,235.95 451.37,218.09 451.69,172.55 451.87,154.42 452.05,141.60 452.22,133.90 452.31,131.98 452.36,131.51 452.40,131.37 452.45,131.57 452.50,132.18 452.60,134.67 452.80,144.51 453.01,161.01 453.21,184.23 453.43,216.69 453.65,255.57 453.84,297.58 453.94,328.75 454.04,299.69 454.25,262.32 454.44,234.58 454.61,215.93 454.92,171.56 455.10,152.73 455.28,139.42 455.46,131.40 455.55,129.42 455.60,128.92 455.64,128.75 455.69,128.95 455.74,129.55 455.84,132.05 456.05,142.13 456.25,159.10 456.46,182.70 456.68,215.65 456.90,255.11 457.09,298.33 457.19,330.01 457.29,300.12 457.50,261.58 458.15,170.71 458.34,151.13 458.52,137.24 458.70,128.87 458.80,126.78 458.84,126.25 458.89,126.09 458.94,126.30 458.99,126.97 459.09,129.58 459.29,139.92 459.50,157.23 459.71,181.23 459.93,215.10 460.15,255.18 460.34,299.02 460.44,331.27 460.54,300.10 460.75,260.53 461.39,169.56 461.57,149.28 461.76,134.94 461.95,126.30 462.04,124.17 462.08,123.63 462.13,123.46 462.18,123.66 462.23,124.33 462.33,126.94 462.54,137.35 462.74,154.80 462.95,179.36 463.18,213.63 463.39,254.68 463.59,299.09 463.69,332.60 463.79,300.61 464.00,259.36 464.62,168.56 464.81,147.60 465.00,132.75 465.19,123.83 465.28,121.62 465.33,121.08 465.37,120.92 465.42,121.14 465.48,121.82 465.58,124.48 465.78,135.21 465.99,152.97 466.20,177.91 466.43,213.08 466.64,254.74 466.84,300.45 466.94,333.91 467.04,301.20 467.25,258.71 467.85,167.98 468.05,146.22 468.24,130.79 468.43,121.49 468.52,119.19 468.57,118.61 468.62,118.42 468.67,118.62 468.72,119.30 468.82,122.05 469.03,132.92 469.24,151.16 469.44,176.49 469.67,212.18 469.89,254.92 470.09,301.24 470.19,335.31 470.30,301.28 470.50,257.68 471.09,167.14 471.28,144.63 471.48,128.66 471.67,119.04 471.77,116.65 471.81,116.08 471.86,115.89 471.91,116.11 471.96,116.80 472.07,119.60 472.27,130.65 472.48,149.13 472.69,175.08 472.92,211.66 473.14,254.97 473.34,301.91 473.44,336.75 473.54,302.07 473.75,257.14 474.32,166.74 474.52,143.41 474.72,126.66 474.91,116.74 475.01,114.30 475.06,113.68 475.10,113.49 475.15,113.72 475.21,114.42 475.31,117.26 475.52,128.58 475.73,147.32 475.94,173.63 476.17,210.67 476.39,255.05 476.59,302.59 476.69,338.26 476.79,302.97 477.00,256.15 477.20,221.17 477.55,166.07 477.75,141.98 477.95,124.85 478.15,114.51 478.25,111.92 478.30,111.29 478.35,111.08 478.40,111.32 478.45,112.03 478.56,114.90 478.76,126.35 478.97,145.55 479.19,172.21 479.42,210.16 479.64,255.15 479.84,304.04 479.94,339.57 480.04,303.53 480.25,255.97 480.45,218.59 480.79,165.51 480.99,140.60 481.19,122.88 481.39,112.19 481.49,109.54 481.54,108.88 481.59,108.65 481.64,108.89 481.70,109.62 481.80,112.52 482.01,124.10 482.22,143.51 482.43,170.79 482.67,209.17 482.89,255.19 483.08,303.98 483.19,340.58 483.29,303.63 483.50,254.98 483.70,215.81 484.02,164.59 484.23,138.96 484.43,120.75 484.63,109.89 484.74,107.14 484.79,106.48 484.84,106.26 484.89,106.50 484.94,107.24 485.04,110.18 485.25,121.88 485.46,141.47 485.68,169.00 485.91,207.75 486.14,254.21 486.33,304.14 486.43,341.11 486.54,304.20 486.74,254.57 486.95,214.19 487.26,163.45 487.47,137.42 487.68,118.69 487.88,107.54 487.98,104.77 488.03,104.09 488.08,103.87 488.13,104.11 488.18,104.85 488.29,107.82 488.50,119.64 488.71,139.44 488.92,167.27 489.15,206.38 489.38,253.25 489.58,303.60 489.68,341.14 489.78,303.33 489.99,253.25 490.20,212.93 490.51,161.69 490.71,135.38 490.92,116.45 491.12,105.18 491.23,102.37 491.28,101.68 491.32,101.45 491.38,101.70 491.43,102.44 491.53,105.43 491.74,117.37 491.95,137.36 492.17,165.46 492.40,204.97 492.62,252.32 492.82,303.22 492.92,340.76 493.03,302.35 493.23,252.02 493.44,211.53 493.76,159.58 493.96,133.08 494.16,114.23 494.37,102.84 494.47,100.00 494.52,99.31 494.57,99.08 494.62,99.33 494.67,100.08 494.78,103.10 494.99,115.14 495.20,135.34 495.41,163.71 495.64,203.63 495.87,250.89 496.06,302.22 496.16,340.10 496.27,301.52 496.48,251.04 496.68,210.95 497.01,157.19 497.21,130.87 497.41,111.88 497.61,100.54 497.71,97.66 497.76,96.96 497.81,96.73 497.87,96.98 497.92,97.74 498.02,100.79 498.23,112.94 498.44,133.30 498.65,161.54 498.89,201.71 499.11,249.32 499.30,301.04 499.41,339.21 499.51,300.53 499.72,249.44 499.92,209.90 500.26,154.38 500.46,128.02 500.66,109.31 500.86,98.05 500.96,95.28 501.01,94.59 501.06,94.37 501.11,94.62 501.16,95.38 501.27,98.45 501.48,110.69 501.69,131.23 501.90,159.72 502.13,200.27 502.35,248.34 502.55,299.87 502.65,338.28 502.76,299.47 502.96,248.37 503.16,209.33 503.51,152.07 503.71,125.87 503.91,107.03 504.11,95.82 504.21,93.01 504.26,92.31 504.31,92.08 504.35,92.32 504.41,93.09 504.51,96.16 504.72,108.49 504.93,129.19 505.14,157.92 505.37,198.33 505.60,246.74 505.79,298.64 505.89,337.35 506.00,297.77 506.21,246.78 506.40,208.34 506.76,149.39 506.96,123.44 507.16,104.75 507.35,93.49 507.45,90.68 507.50,89.99 507.55,89.77 507.60,90.01 507.65,90.76 507.76,93.85 507.96,106.26 508.17,126.83 508.38,155.70 508.61,196.37 508.84,245.12 509.03,297.41 509.13,336.24 509.24,296.48 509.45,245.55 509.64,207.71 510.01,146.75 510.21,120.77 510.41,102.12 510.60,91.07 510.70,88.36 510.75,87.67 510.80,87.46 510.85,87.71 510.90,88.49 511.00,91.63 511.21,104.02 511.42,124.74 511.63,153.86 511.86,194.89 512.08,243.50 512.27,296.21 512.37,335.05 512.48,295.76 512.69,244.26 512.88,207.05 513.26,144.05 513.46,118.34 513.65,99.86 513.85,88.85 513.94,86.09 513.99,85.39 514.04,85.17 514.09,85.41 514.14,86.18 514.25,89.34 514.45,101.79 514.66,122.67 514.87,151.62 515.10,192.90 515.32,241.84 515.51,294.93 515.61,333.85 515.73,293.68 515.94,242.49 516.12,206.44 516.51,141.43 516.71,115.72 516.90,97.48 517.10,86.50 517.19,83.77 517.24,83.11 517.29,82.89 517.34,83.14 517.39,83.93 517.49,87.02 517.70,99.51 517.91,120.49 518.11,149.64 518.34,190.72 518.56,239.95 518.76,293.37 518.86,332.50 518.97,292.34 519.18,241.30 519.77,138.85 519.96,113.33 520.15,95.22 520.34,84.25 520.44,81.47 520.49,80.79 520.53,80.56 520.58,80.79 520.63,81.57 520.74,84.67 520.94,97.22 521.15,118.05 521.36,147.33 521.58,188.66 521.81,238.22 522.00,291.27 522.10,331.01 522.21,290.56 522.42,239.83 523.02,135.82 523.21,110.65 523.40,92.59 523.59,81.85 523.69,79.15 523.73,78.48 523.78,78.26 523.83,78.51 523.88,79.31 523.98,82.45 524.19,94.97 524.39,115.94 524.60,145.44 524.83,187.10 525.05,236.48 525.24,289.92 525.34,329.47 525.45,289.45 525.66,238.37 526.28,132.54 526.47,107.78 526.65,90.03 526.84,79.47 526.94,76.81 526.98,76.15 527.03,75.95 527.08,76.21 527.13,77.02 527.23,80.20 527.43,92.83 527.64,114.01 527.85,143.39 528.07,184.85 528.29,234.52 528.48,288.32 528.58,327.78 528.69,288.98 528.89,239.40 529.48,137.20 529.65,112.79 529.82,94.21 529.99,81.65 530.16,74.89 530.22,73.95 530.27,73.64 530.32,73.88 530.38,74.73 530.48,78.16 530.59,84.08 530.81,103.12 531.03,131.57 531.27,173.05 531.50,224.47 531.71,281.90 531.82,325.94 532.00,268.70 532.31,204.95 532.52,173.99 532.69,142.07 532.88,113.71 533.08,91.38 533.28,77.37 533.39,72.92 533.45,71.77 533.51,71.30 533.54,71.31 533.57,71.50 533.62,72.39 533.74,76.18 533.97,92.04 534.20,118.99 534.45,160.26 534.70,213.49 534.93,275.69 535.06,324.11 535.18,282.71 535.40,230.95 536.11,114.36 536.31,90.78 536.51,75.81 536.61,71.42 536.71,69.24 536.76,68.92 536.81,69.12 536.91,71.14 537.10,80.26 537.28,96.58 537.47,119.88 537.66,150.44 538.05,238.20 538.22,286.73 538.30,322.15 538.41,281.97 538.63,232.79 538.83,195.47 539.02,171.39 539.30,120.32 539.48,96.94 539.66,80.12 539.83,69.95 539.92,67.39 540.01,66.52 540.06,66.74 540.11,67.49 540.21,70.64 540.41,83.26 540.62,104.53 540.82,134.15 541.04,176.08 541.26,225.76 541.44,280.09 541.54,320.16 541.65,280.39 541.87,230.98 542.08,193.40 542.27,170.12 542.55,116.94 542.73,93.68 542.91,77.25 543.09,67.35 543.17,64.90 543.22,64.27 543.26,64.06 543.31,64.31 543.36,65.08 543.46,68.21 543.66,80.94 543.86,102.09 544.06,131.89 544.28,173.59 544.50,223.56 544.68,277.43 544.78,318.13 544.90,278.18 545.11,229.69 545.32,192.10 545.51,168.85 545.81,113.93 545.99,90.97 546.16,74.73 546.33,64.91 546.42,62.43 546.46,61.78 546.51,61.57 546.56,61.82 546.61,62.59 546.70,65.74 546.90,78.35 547.10,99.58 547.31,129.54 547.53,171.52 547.74,221.23 547.93,275.43 548.02,316.12 548.14,276.10 548.35,227.96 548.57,190.09 548.76,167.59 549.07,110.55 549.24,87.98 549.41,72.00 549.58,62.33 549.67,59.86 549.75,59.03 549.80,59.25 549.85,60.00 549.95,63.12 550.15,75.75 550.35,97.09 550.55,126.82 550.77,168.47 550.98,218.36 551.16,272.78 551.26,314.01 551.38,274.40 551.59,226.51 551.81,188.31 552.01,166.33 552.32,107.40 552.49,85.14 552.66,69.37 552.83,59.68 552.92,57.27 553.00,56.43 553.05,56.64 553.10,57.39 553.20,60.51 553.39,73.22 553.59,94.39 553.79,124.26 554.01,166.17 554.22,216.42 554.41,271.33 554.51,311.92 554.62,272.40 554.83,224.81 555.06,186.69 555.26,165.06 555.40,134.02 555.58,103.93 555.75,82.03 555.91,66.51 556.08,56.98 556.17,54.58 556.25,53.76 556.29,53.97 556.34,54.72 556.44,57.87 556.64,70.46 556.84,91.71 557.04,121.75 557.25,163.42 557.47,213.96 557.65,268.38 557.75,309.79 557.86,270.87 558.07,223.43 558.30,184.95 558.50,163.80 558.65,131.43 558.83,100.47 559.00,78.95 559.17,63.52 559.33,54.21 559.41,51.90 559.50,51.09 559.54,51.31 559.59,52.08 559.69,55.28 559.89,68.07 560.09,89.61 560.29,119.60 560.50,161.12 560.71,211.38 560.89,266.12 560.99,307.68 561.10,268.78 561.31,221.63 561.55,183.24 561.75,162.53 561.90,129.28 562.09,96.93 562.26,75.80 562.42,60.62 562.58,51.46 562.66,49.15 562.75,48.35 562.79,48.59 562.84,49.38 562.94,52.54 563.14,65.40 563.33,86.78 563.53,116.93 563.74,158.71 563.95,209.35 564.14,264.59 564.23,305.51 564.34,266.69 564.55,220.30 564.79,181.53 564.91,167.36 565.00,161.27 565.15,126.65 565.35,93.76 565.51,72.63 565.67,57.71 565.83,48.68 565.91,46.37 565.99,45.59 566.04,45.81 566.09,46.60 566.19,49.76 566.38,62.46 566.58,83.90 566.77,114.19 566.99,156.23 567.19,206.56 567.38,262.10 567.47,303.39 567.59,264.76 567.79,218.57 568.04,179.53 568.16,165.76 568.25,160.01 568.40,124.05 568.60,90.23 568.76,69.47 568.92,54.80 569.08,45.81 569.16,43.59 569.24,42.83 569.29,43.09 569.34,43.87 569.44,47.07 569.63,59.94 569.83,81.62 570.02,111.83 570.23,154.23 570.44,204.36 570.62,259.50 570.72,301.20 570.83,262.78 571.04,216.80 571.28,177.85 571.41,164.16 571.49,158.74 571.65,121.93 571.86,87.05 572.02,66.56 572.17,51.86 572.33,42.99 572.41,40.76 572.49,39.99 572.54,40.24 572.59,41.00 572.68,44.20 572.88,57.12 573.07,78.61 573.26,108.49 573.40,134.03 573.30,182.09" fill="none" stroke="#0000ff" stroke-width="1.5" stroke-linejoin="round" stroke-linecap="round"/>
<g stroke="#000" stroke-width="1" fill="none">
<path d="M62.5 30V356M62 355.5H589"/>
<path d="M62 346.5H67.8M62 272.3H67.8M62 198.05H67.8M62 123.8H67.8M62 49.6H67.8"/>
<path d="M77.3 355V350.6M176.52 355V350.6M275.74 355V350.6M374.96 355V350.6M474.18 355V350.6M573.4 355V350.6"/>
</g>
<g font-size="11.9" text-anchor="end">
<text x="54.8" y="350.8">0.00</text>
<text x="54.8" y="276.5">0.02</text>
<text x="54.8" y="202.3">0.04</text>
<text x="54.8" y="128.1">0.06</text>
<text x="54.8" y="53.9">0.08</text>
</g>
<g font-size="11.9" text-anchor="middle">
<text x="77.3" y="371.1">0</text>
<text x="176.52" y="371.1">1000</text>
<text x="275.74" y="371.1">2000</text>
<text x="374.96" y="371.1">3000</text>
<text x="474.18" y="371.1">4000</text>
<text x="573.4" y="371.1">5000</text>
</g>
<text x="325.85" y="17.9" font-size="20.77" text-anchor="middle">Absolute Difference in States Over Time</text>
<text x="325.8" y="391.8" font-size="16.36" text-anchor="middle">Time</text>
<text transform="translate(16.1,193.4) rotate(-90)" font-size="16.36" text-anchor="middle">Difference</text>
<rect x="80" y="41.5" width="168" height="26" fill="#fff" stroke="#000" stroke-width="1"/>
<path d="M85.75 54.6H121.25" stroke="#0000ff" stroke-width="1.5" stroke-linecap="round"/>
<text x="125.4" y="58.8" font-size="11.9">Difference in States</text>
</svg>
</body></html>
